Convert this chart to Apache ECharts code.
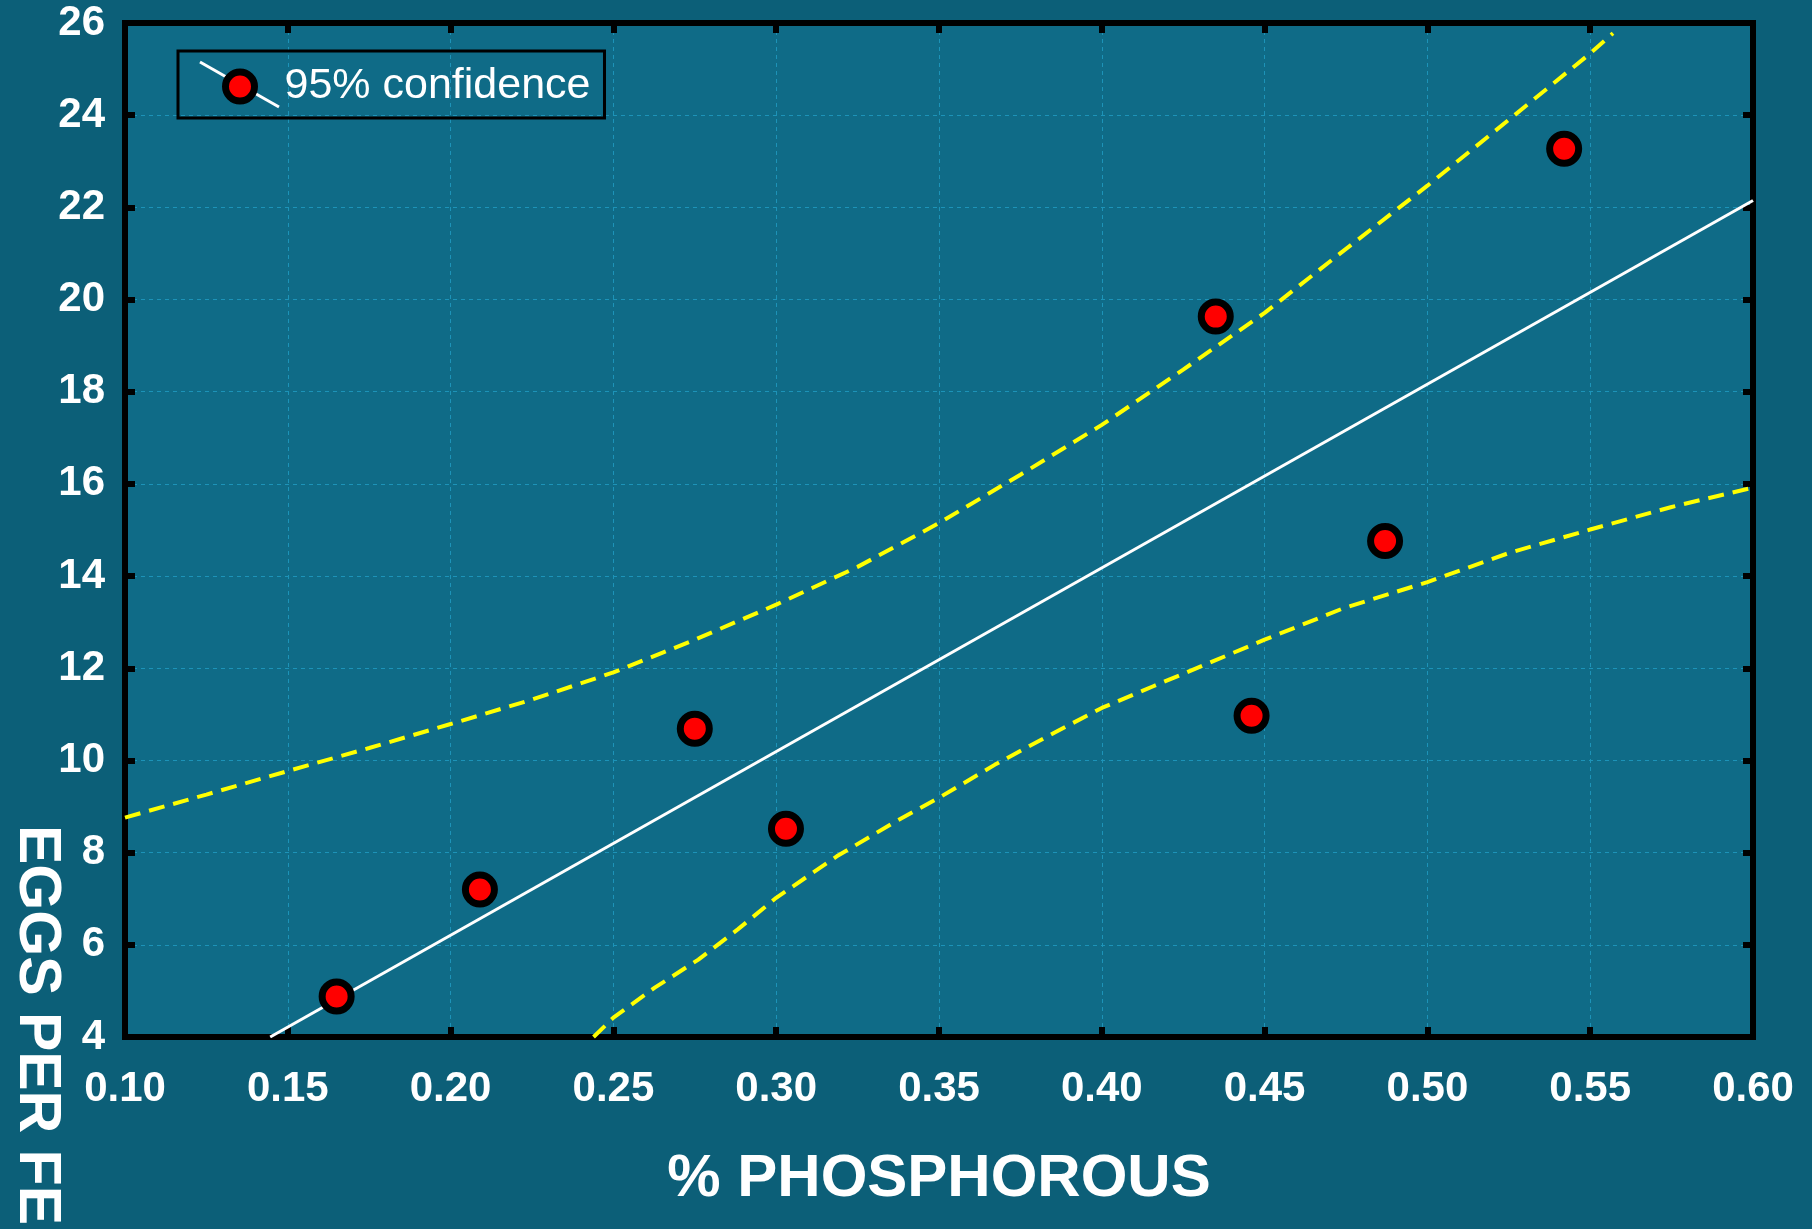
<!DOCTYPE html>
<html>
<head>
<meta charset="utf-8">
<title>Eggs per female vs % phosphorous</title>
<script src="https://cdn.jsdelivr.net/npm/echarts@6/dist/echarts.min.js"></script>
<style>
  html, body { margin: 0; padding: 0; background: #0c5f78; }
  #chart { width: 1812px; height: 1229px; }
</style>
</head>
<body>
<div id="chart"></div>
<script>
// observed points
const phosphorous = [0.165, 0.209, 0.275, 0.303, 0.435, 0.446, 0.487, 0.542]
const eggs = [4.88, 7.2, 10.69, 8.52, 19.63, 10.97, 14.76, 23.27]

// fitted line, end points
const fitX = [0.1446, 0.60]
const fitY = [4.0, 22.15]

// 95% confidence band (upper / lower)
const upperX = [0.100, 0.125, 0.150, 0.175, 0.200, 0.225, 0.250, 0.275, 0.300, 0.325, 0.350, 0.375, 0.400, 0.425, 0.450, 0.475, 0.500, 0.525, 0.550, 0.557]
const upperY = [8.76, 9.26, 9.77, 10.27, 10.79, 11.32, 11.91, 12.62, 13.38, 14.2, 15.15, 16.2, 17.28, 18.48, 19.71, 21.1, 22.47, 23.9, 25.34, 25.78]
const lowerX = [0.2439, 0.250, 0.2627, 0.2761, 0.2883, 0.300, 0.3186, 0.3368, 0.350, 0.3672, 0.3854, 0.400, 0.4158, 0.424, 0.450, 0.4745, 0.500, 0.525, 0.550, 0.575, 0.600]
const lowerY = [4.0, 4.42, 5.07, 5.68, 6.34, 7.02, 7.92, 8.68, 9.19, 9.91, 10.6, 11.14, 11.61, 11.85, 12.62, 13.31, 13.87, 14.5, 15.01, 15.5, 15.92]

const xTicks = { min: 0.10, max: 0.60, interval: 0.05 }
const yTicks = { min: 4, max: 26, interval: 2 }

const zip = (xs, ys) => xs.map((x, i) => [x, ys[i]])

const font = "'Liberation Sans', Arial, sans-serif"
const frame = { color: '#000', width: 6, cap: 'square' }
const tick = { show: true, inside: true, length: 10, lineStyle: { color: '#000', width: 6 } }
const gridLine = { show: true, lineStyle: { color: '#1d93b8', width: 1, type: [4, 4] } }

const chart = echarts.init(document.getElementById('chart'))

const option = {
  backgroundColor: '#0c5f78',
  animation: false,
  grid: {
    left: 125, right: 59, top: 23, bottom: 192,
    show: true,
    backgroundColor: '#0f6b87',
    borderWidth: 0
  },
  legend: {
    left: 178,
    top: 51,
    padding: [14, 14, 10, 44],
    borderColor: '#000',
    borderWidth: 3,
    itemWidth: 29,
    itemHeight: 29,
    data: [{ name: '95% confidence', icon: 'circle' }],
    itemStyle: { color: '#ff0000', borderColor: '#000', borderWidth: 7 },
    textStyle: { color: '#fff', fontSize: 43, fontFamily: font, padding: [0, 0, 0, 25] }
  },
  graphic: [
    {
      type: 'line',
      z: 3,
      shape: { x1: 200, y1: 62, x2: 279, y2: 107 },
      style: { stroke: '#fff', lineWidth: 3 }
    },
    {
      type: 'text',
      x: 36,
      y: 825,
      rotation: -Math.PI / 2,
      style: {
        text: 'EGGS PER FEMALE',
        fill: '#fff',
        font: 'bold 59px ' + font,
        textAlign: 'left',
        textVerticalAlign: 'middle'
      }
    }
  ],
  xAxis: [
    {
      type: 'value',
      position: 'bottom',
      ...xTicks,
      name: '% PHOSPHOROUS',
      nameLocation: 'middle',
      nameGap: 112,
      nameTextStyle: { color: '#fff', fontSize: 60, fontWeight: 'bold', fontFamily: font },
      axisLine: { show: true, lineStyle: frame },
      axisTick: tick,
      splitLine: gridLine,
      axisLabel: {
        color: '#fff', fontSize: 42, fontWeight: 'bold', fontFamily: font, margin: 31,
        formatter: v => v.toFixed(2)
      }
    },
    {
      type: 'value',
      position: 'top',
      ...xTicks,
      axisLine: { show: true, lineStyle: frame },
      axisTick: tick,
      splitLine: { show: false },
      axisLabel: { show: false }
    }
  ],
  yAxis: [
    {
      type: 'value',
      position: 'left',
      ...yTicks,
      axisLine: { show: true, lineStyle: frame },
      axisTick: tick,
      splitLine: gridLine,
      axisLabel: { color: '#fff', fontSize: 42, fontWeight: 'bold', fontFamily: font, margin: 20 }
    },
    {
      type: 'value',
      position: 'right',
      ...yTicks,
      axisLine: { show: true, lineStyle: frame },
      axisTick: tick,
      splitLine: { show: false },
      axisLabel: { show: false }
    }
  ],
  series: [
    {
      name: 'upper',
      type: 'line',
      data: zip(upperX, upperY),
      showSymbol: false,
      silent: true,
      lineStyle: { color: '#ffff00', width: 4, type: [16, 9] }
    },
    {
      name: 'lower',
      type: 'line',
      data: zip(lowerX, lowerY),
      showSymbol: false,
      silent: true,
      lineStyle: { color: '#ffff00', width: 4, type: [16, 9] }
    },
    {
      name: 'fit',
      type: 'line',
      data: zip(fitX, fitY),
      showSymbol: false,
      silent: true,
      lineStyle: { color: '#ffffff', width: 3 }
    },
    {
      name: '95% confidence',
      type: 'scatter',
      data: zip(phosphorous, eggs),
      symbol: 'circle',
      symbolSize: 29,
      z: 5,
      itemStyle: { color: '#ff0000', borderColor: '#000', borderWidth: 7, opacity: 1 }
    }
  ]
}

chart.setOption(option)
</script>
</body>
</html>
